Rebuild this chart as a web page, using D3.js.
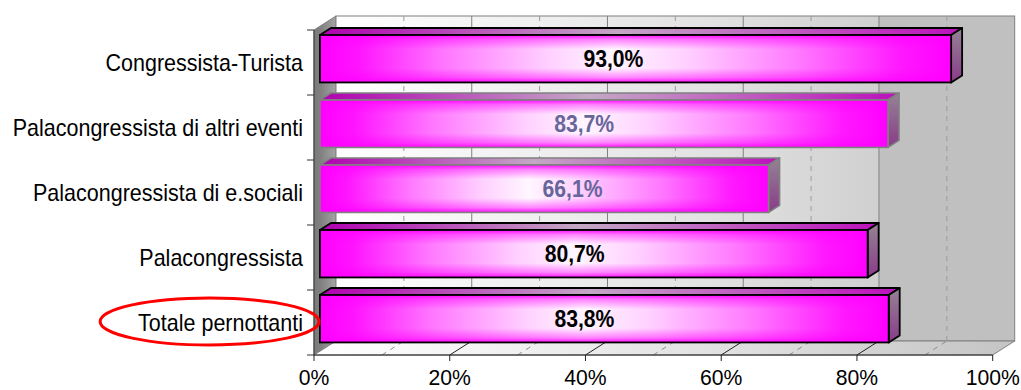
<!DOCTYPE html>
<html>
<head>
<meta charset="utf-8">
<script src="https://cdn.jsdelivr.net/npm/d3@7"></script>
<style>
  html, body { margin: 0; padding: 0; background: #ffffff; }
  svg { display: block; }
  text { font-family: "Liberation Sans", Arial, sans-serif; }
</style>
</head>
<body>
<svg id="chart" width="1021" height="390"></svg>
<script>
// Chart data
const categories = [
  "Congressista-Turista",
  "Palacongressista di altri eventi",
  "Palacongressista di e.sociali",
  "Palacongressista",
  "Totale pernottanti"
];
const values = [93.0, 83.7, 66.1, 80.7, 83.8];
const tickValues = [0, 20, 40, 60, 80, 100];
const tickLabels = ["0%", "20%", "40%", "60%", "80%", "100%"];
const minorGridValues = [10, 30, 50, 70, 90];
const majorGridValues = [20, 40, 60, 80];
const highlighted = "Totale pernottanti";

// Layout of the 3D box
const frontLeft = 314, frontRight = 992.7, frontTop = 30, frontBottom = 355;
const depth = { x: 22, y: -14 };        // back plane offset
const barFrontT = 0.27, barBackT = 0.77; // bar depth within the box
const barFill = 0.73;                    // bar height as share of band
const mutedRows = new Set(["Palacongressista di altri eventi", "Palacongressista di e.sociali"]);
// value labels sit a little left of the bar middle; the short bar's label was dragged right
const labelNudge = { "Palacongressista di e.sociali": 44 };

const itFormat = d3.formatLocale({ decimal: ",", thousands: ".", grouping: [3], currency: ["€", ""] }).format(".1f");

const svg = d3.select("#chart");
const x = d3.scaleLinear().domain([0, 100]).range([frontLeft, frontRight]);
const y = d3.scaleBand().domain(categories).range([frontTop, frontBottom]).padding(0);

// Gradients
const defs = svg.append("defs");
function linGrad(id, x2, y2, stops) {
  const g = defs.append("linearGradient").attr("id", id)
    .attr("x1", 0).attr("y1", 0).attr("x2", x2).attr("y2", y2);
  stops.forEach(([o, c, op]) => g.append("stop").attr("offset", o).attr("stop-color", c)
    .attr("stop-opacity", op === undefined ? 1 : op));
}
linGrad("wallGrad", 1, 0, [[0, "#ffffff"], [0.55, "#e2e2e2"], [0.8, "#d0d0d0"], [0.8, "#c0c0c0"], [1, "#c0c0c0"]]);
linGrad("floorGrad", 1, 0, [[0, "#ffffff"], [0.6, "#e0e0e0"], [1, "#c4c4c4"]]);
linGrad("sideGrad", 1, 0, [[0, "#7a7a7a"], [0.3, "#808080"], [1, "#a4a4a4"]]);
linGrad("frontGrad", 1, 0, [
  [0, "#ff00ff"], [0.06, "#ff14ff"], [0.2, "#ff78ff"], [0.36, "#ffcfff"],
  [0.465, "#fff6ff"], [0.58, "#ffd0ff"], [0.76, "#ff78ff"], [0.92, "#ff18ff"], [1, "#ff00ff"]
]);
linGrad("frontShade", 0, 1, [
  [0, "#ff00ff", 0.95], [0.1, "#ff00ff", 0.45], [0.3, "#ff00ff", 0],
  [0.7, "#ff00ff", 0], [0.9, "#ff00ff", 0.45], [1, "#ff00ff", 0.95]
]);
linGrad("topGrad", 1, 0, [[0, "#b000b0"], [0.465, "#c4a8c4"], [1, "#bc10bc"]]);
linGrad("endGrad", 0, 1, [[0, "#948494"], [1, "#8a3a8a"]]);

const back = (px, py) => [px + depth.x, py + depth.y];
const poly = pts => pts.map(p => p.join(",")).join(" ");

// Walls and floor
svg.append("polygon")
  .attr("points", poly([[frontLeft, frontTop], back(frontLeft, frontTop), back(frontLeft, frontBottom), [frontLeft, frontBottom]]))
  .attr("fill", "url(#sideGrad)").attr("stroke", "#808080").attr("stroke-width", 1);
svg.append("rect")
  .attr("x", frontLeft + depth.x).attr("y", frontTop + depth.y)
  .attr("width", frontRight - frontLeft).attr("height", frontBottom - frontTop)
  .attr("fill", "url(#wallGrad)").attr("stroke", "#808080").attr("stroke-width", 1);
svg.append("polygon")
  .attr("points", poly([[frontLeft, frontBottom], [frontRight, frontBottom], back(frontRight, frontBottom), back(frontLeft, frontBottom)]))
  .attr("fill", "url(#floorGrad)").attr("stroke", "#808080").attr("stroke-width", 1);

// Gridlines on the back wall and floor
const grid = svg.append("g");
grid.selectAll(".minor-wall").data(minorGridValues).join("line")
  .attr("x1", d => x(d) + depth.x).attr("x2", d => x(d) + depth.x)
  .attr("y1", frontTop + depth.y).attr("y2", frontBottom + depth.y)
  .attr("stroke", "#9c9c9c").attr("stroke-dasharray", "5,5");
grid.selectAll(".major-wall").data(majorGridValues).join("line")
  .attr("x1", d => x(d) + depth.x).attr("x2", d => x(d) + depth.x)
  .attr("y1", frontTop + depth.y).attr("y2", frontBottom + depth.y)
  .attr("stroke", "#808080");
grid.selectAll(".minor-floor").data(minorGridValues).join("line")
  .attr("x1", d => x(d)).attr("y1", frontBottom)
  .attr("x2", d => x(d) + depth.x).attr("y2", frontBottom + depth.y)
  .attr("stroke", "#8c8c8c").attr("stroke-dasharray", "5,5");
grid.selectAll(".major-floor").data(majorGridValues).join("line")
  .attr("x1", d => x(d)).attr("y1", frontBottom)
  .attr("x2", d => x(d) + depth.x).attr("y2", frontBottom + depth.y)
  .attr("stroke", "#222");

// Bars
const bh = y.bandwidth() * barFill;
const f = { x: depth.x * barFrontT, y: depth.y * barFrontT };
const bd = { x: depth.x * (barBackT - barFrontT), y: depth.y * (barBackT - barFrontT) };

const bars = svg.append("g").selectAll("g").data(categories.map((c, i) => ({ c, v: values[i] }))).join("g");
bars.each(function (d) {
  const g = d3.select(this);
  const x0 = x(0) + f.x, x1 = x(d.v) + f.x;
  const yc = y(d.c) + y.bandwidth() / 2;
  const yt = yc - bh / 2 + f.y, yb = yc + bh / 2 + f.y;
  const stroke = mutedRows.has(d.c) ? "#808080" : "#000000";
  const sw = mutedRows.has(d.c) ? 1.6 : 1.8;
  g.append("polygon")
    .attr("points", poly([[x0, yt], [x1, yt], [x1 + bd.x, yt + bd.y], [x0 + bd.x, yt + bd.y]]))
    .attr("fill", "url(#topGrad)").attr("stroke", stroke).attr("stroke-width", sw).attr("stroke-linejoin", "round");
  g.append("polygon")
    .attr("points", poly([[x1, yt], [x1 + bd.x, yt + bd.y], [x1 + bd.x, yb + bd.y], [x1, yb]]))
    .attr("fill", "url(#endGrad)").attr("stroke", stroke).attr("stroke-width", sw).attr("stroke-linejoin", "round");
  g.append("rect").attr("x", x0).attr("y", yt).attr("width", x1 - x0).attr("height", yb - yt)
    .attr("fill", "url(#frontGrad)");
  g.append("rect").attr("x", x0).attr("y", yt).attr("width", x1 - x0).attr("height", yb - yt)
    .attr("fill", "url(#frontShade)").attr("stroke", stroke).attr("stroke-width", sw);
  const lx = x0 + (x1 - x0) * 0.465 + (labelNudge[d.c] || 0);
  g.append("text")
    .attr("transform", `translate(${lx},${(yt + yb) / 2 + 8}) scale(0.9,1)`)
    .attr("text-anchor", "middle")
    .attr("font-size", 23.5).attr("font-weight", "bold")
    .attr("fill", mutedRows.has(d.c) ? "#666699" : "#000000")
    .text(itFormat(d.v) + "%");
});

// Axes
const axes = svg.append("g");
axes.append("line").attr("x1", frontLeft).attr("x2", frontLeft).attr("y1", frontTop).attr("y2", frontBottom)
  .attr("stroke", "#333");
axes.append("line").attr("x1", frontLeft).attr("x2", frontRight).attr("y1", frontBottom).attr("y2", frontBottom)
  .attr("stroke", "#222");
const boundaries = categories.map(c => y(c)).concat([frontBottom]);
axes.selectAll(".ytick").data(boundaries).join("line")
  .attr("x1", frontLeft - 7).attr("x2", frontLeft).attr("y1", d => d).attr("y2", d => d)
  .attr("stroke", "#333");
axes.selectAll(".xtick").data(tickValues).join("line")
  .attr("x1", d => x(d)).attr("x2", d => x(d)).attr("y1", frontBottom).attr("y2", frontBottom + 6)
  .attr("stroke", "#222");
axes.selectAll(".xlabel").data(tickValues).join("text")
  .attr("transform", d => `translate(${x(d)},385) scale(0.94,1)`)
  .attr("text-anchor", "middle").attr("font-size", 22.5).attr("fill", "#000")
  .text((d, i) => tickLabels[i]);
const catLabels = axes.selectAll(".ylabel").data(categories).join("text")
  .attr("transform", d => `translate(303,${y(d) + y.bandwidth() / 2 + 8}) scale(0.935,1)`)
  .attr("text-anchor", "end").attr("font-size", 23).attr("fill", "#000")
  .text(d => d);

// Ring around the total row label
catLabels.filter(d => d === highlighted).each(function (d) {
  const bb = this.getBBox();
  const w = bb.width * 0.935;
  const cy = y(d) + y.bandwidth() / 2 - 1;
  svg.append("ellipse")
    .attr("cx", 303 - w / 2 - 11).attr("cy", cy)
    .attr("rx", w / 2 + 27).attr("ry", 23.5)
    .attr("fill", "none").attr("stroke", "#ff0000").attr("stroke-width", 3);
});
</script>
</body>
</html>
